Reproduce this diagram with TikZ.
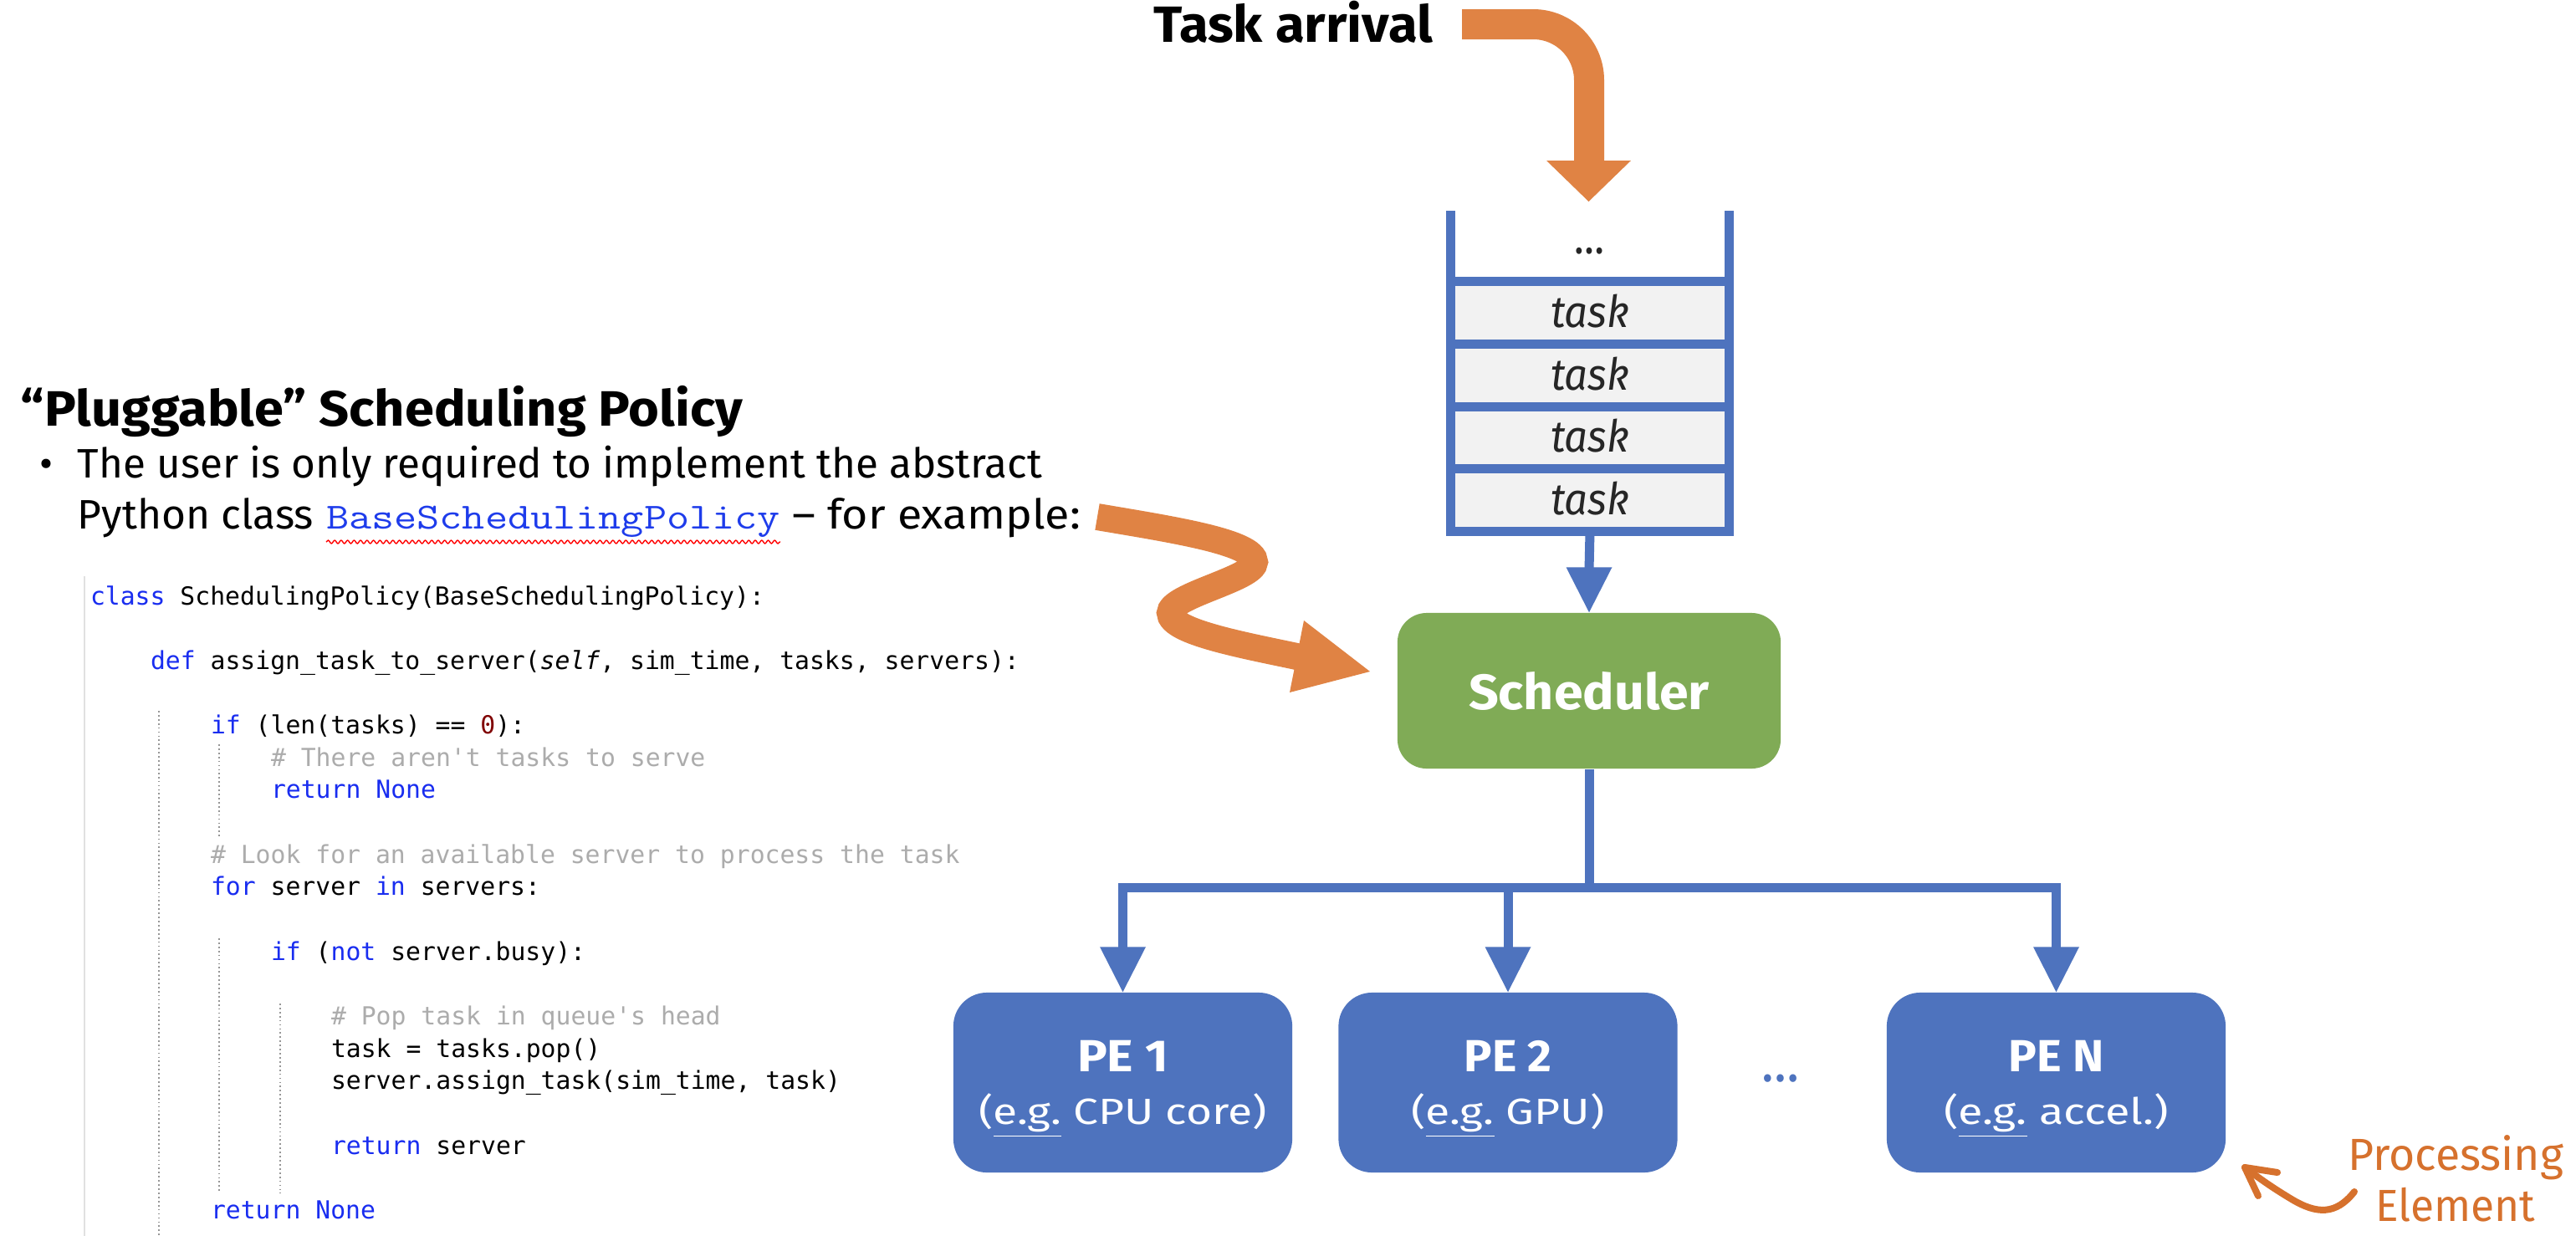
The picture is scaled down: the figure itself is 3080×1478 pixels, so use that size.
\documentclass[tikz,border=0pt]{standalone}
\usepackage{fontspec}
\usepackage{graphicx}
\setmainfont{Fira Sans}
\newfontfamily\condfont{Fira Sans}
\newfontfamily\codefont{DejaVu Sans Mono}
\usetikzlibrary{calc,decorations.pathmorphing}
\newlength\pxu \setlength\pxu{0.01cm}
\newcommand\fw[2]{\resizebox{#1\pxu}{\height}{#2}}
\newcommand\fsz[1]{\fontsize{#1pt}{#1pt}\selectfont}
\definecolor{qblue}{RGB}{78,115,190}
\definecolor{sgreen}{RGB}{128,171,86}
\definecolor{oband}{RGB}{224,131,68}
\definecolor{otext}{RGB}{214,113,45}
\definecolor{cellgray}{RGB}{242,242,242}
\definecolor{kwblue}{RGB}{25,45,240}
\definecolor{cmtgray}{RGB}{172,172,172}
\definecolor{numred}{RGB}{128,0,0}
\definecolor{linkblue}{RGB}{30,60,235}
\definecolor{guidegray}{RGB}{150,150,150}
\definecolor{rulegray}{RGB}{225,225,225}
\definecolor{tasktext}{RGB}{38,38,38}
\newcommand\kw[1]{\textcolor{kwblue}{#1}}
\newcommand\cmt[1]{\textcolor{cmtgray}{#1}}
\newcommand\bhead[1]{\fill[qblue] ($(#1)+(-27.5,-54)$) -- ($(#1)+(27.5,-54)$) -- (#1) -- cycle;}
\begin{document}
\begin{tikzpicture}[x=0.01cm,y=-0.01cm,
  txt/.style={inner sep=0pt,outer sep=0pt,anchor=base west},
  ctxt/.style={inner sep=0pt,outer sep=0pt,anchor=base},
  code/.style={txt,font=\codefont\fsz{8.46}},
  bline/.style={draw=qblue,line width=3.13pt},
  qline/.style={draw=qblue,line width=3.13pt,line join=miter},
  pebox/.style={fill=qblue,rounded corners=11.4pt,minimum width=4.05cm,minimum height=2.15cm,inner sep=0pt},
  guide/.style={draw=guidegray,line width=0.45pt,dash pattern=on 0.5pt off 0.9pt},
  tasktxt/.style={ctxt,text=tasktext,font=\itshape\fsz{15}}
]
\useasboundingbox (0,0) rectangle (3080,1478);
\fill[white] (0,0) rectangle (3080,1478);

% ---------- left text ----------
\node[txt,font=\condfont\bfseries\fsz{16.9}] (head) at (25,509) {\fw{863}{“Pluggable” Scheduling Policy}};
\node[ctxt,font=\fsz{14}] (bul) at (55,571) {•};
\node[txt,font=\fsz{14}] (b1) at (93,571) {\fw{1153}{The user is only required to implement the abstract}};
\node[txt,font=\fsz{14}] (b2a) at (93,632) {\fw{282}{Python class}};
\node[txt,font=\ttfamily\fsz{12.5},text=linkblue] (b2b) at (390,632) {\fw{543}{BaseSchedulingPolicy}};
\node[txt,font=\fsz{14}] (b2c) at (947,632) {\fw{345}{– for example:}};
\coordinate (wavyA) at (390,648);
\coordinate (wavyB) at (933,648);
\draw[red,line width=0.4pt,decorate,decoration={snake,amplitude=0.55pt,segment length=2.2pt}] (wavyA) -- (wavyB);

% ---------- code ----------
\draw[rulegray,line width=0.6pt] (101,689) -- (101,1478);
\draw[guide] (190,850) -- (190,1478);
\draw[guide] (262,890) -- (262,1000);
\draw[guide] (262,1122) -- (262,1427);
\draw[guide] (335,1200) -- (335,1427);
\node[code] (c1) at (108,723) {\kw{class} SchedulingPolicy(BaseSchedulingPolicy):};
\node[code] (c2) at (180,800.3) {\kw{def} assign\_task\_to\_server({\itshape self}, sim\_time, tasks, servers):};
\node[code] (c3) at (252,877.6) {\kw{if} (len(tasks) == \textcolor{numred}{0}):};
\node[code] (c4) at (324,916.3) {\cmt{\# There aren\textquotesingle t tasks to serve}};
\node[code] (c5) at (324,954.9) {\kw{return} \kw{None}};
\node[code] (c6) at (252,1032.2) {\cmt{\# Look for an available server to process the task}};
\node[code] (c7) at (252,1070.9) {\kw{for} server \kw{in} servers:};
\node[code] (c8) at (324,1148.2) {\kw{if} (\kw{not} server.busy):};
\node[code] (c9) at (396,1225.5) {\cmt{\# Pop task in queue\textquotesingle s head}};
\node[code] (c10) at (396,1264.1) {task = tasks.pop()};
\node[code] (c11) at (396,1302.8) {server.assign\_task(sim\_time, task)};
\node[code] (c12) at (396,1380.1) {\kw{return} server};
\node[code] (c13) at (252,1457.4) {\kw{return} \kw{None}};

% ---------- task arrival ----------
\node[txt,font=\bfseries\fsz{17.3}] (arrival) at (1379,50) {\fw{334}{Task arrival}};
\coordinate (arrS) at (1748,29);
\coordinate (arrC) at (1900,29);
\coordinate (arrE) at (1900,196);
\draw[oband,line width=10.24pt,rounded corners=19pt] (arrS) -- (arrC) -- (arrE);
\fill[oband] (1849,192) -- (1950,192) -- (1899.5,241) -- cycle;

% ---------- queue ----------
\fill[cellgray] (1740,337) rectangle (2062,636);
\draw[qline] (1734.5,252) -- (1734.5,635.5) -- (2067.5,635.5) -- (2067.5,252);
\foreach \yy in {336.5,411.5,486.5,560.5} \draw[bline] (1740,\yy) -- (2062,\yy);
\node[ctxt,text=tasktext,font=\fsz{16}] (qdots) at (1900,303) {\fw{36}{…}};
\node[tasktxt] (t1) at (1901,391) {\fw{94}{task}};
\node[tasktxt] (t2) at (1901,466) {\fw{94}{task}};
\node[tasktxt] (t3) at (1901,540.5) {\fw{94}{task}};
\node[tasktxt] (t4) at (1901,615) {\fw{94}{task}};
\coordinate (qbot) at (1901,636);

% ---------- scheduler ----------
\node[fill=sgreen,rounded corners=9.96pt,minimum width=4.58cm,minimum height=1.86cm,inner sep=0pt,
      text=white,font=\condfont\bfseries\fsz{16.9}] (sched) at (1900,826) {\fw{288}{Scheduler}};
\draw[bline] (qbot) -- ($(sched.north)+(0,-50)$);
\bhead{sched.north}

% ---------- wavy arrow ----------
\coordinate (wS) at (1312,618);
\coordinate (wE) at (1555,786);
\draw[oband,line width=9.1pt] (wS) .. controls (1400,633) and (1500,648) .. (1500,672)
   .. controls (1500,692) and (1399,712) .. (1399,733)
   .. controls (1399,756) and (1490,772) .. (wE);
\fill[oband] (1559,742) -- (1638,803) -- (1542,828) -- cycle;

% ---------- PEs ----------
\node[pebox] (pe1) at (1342.5,1294.5) {};
\node[pebox] (pe2) at (1803,1294.5) {};
\node[pebox] (pen) at (2458.5,1294.5) {};
\node[ctxt,text=white,font=\bfseries\fsz{15.3}] (pe1a) at (1342.5,1281) {\fw{109}{PE 1}};
\node[ctxt,text=white,font=\fsz{12.4}] (pe1b) at (1342.5,1344) {\fw{344}{(\underline{e.g.} CPU core)}};
\node[ctxt,text=white,font=\bfseries\fsz{15.3}] (pe2a) at (1803,1281) {\fw{105}{PE 2}};
\node[ctxt,text=white,font=\fsz{12.4}] (pe2b) at (1803,1344) {\fw{231}{(\underline{e.g.} GPU)}};
\node[ctxt,text=white,font=\bfseries\fsz{15.3}] (pena) at (2458.5,1281) {\fw{114}{PE N}};
\node[ctxt,text=white,font=\fsz{12.4}] (penb) at (2458.5,1344) {\fw{269}{(\underline{e.g.} accel.)}};
\node[ctxt,text=qblue,font=\fsz{19}] (pdots) at (2129,1293) {\fw{45}{…}};

\coordinate (bus) at (1900,1061);
\draw[bline] (sched.south) -- (bus);
\draw[bline] ($(pe1.north)+(0,-50)$) |- (bus) -| ($(pen.north)+(0,-50)$);
\draw[bline] (pe2.north |- bus) -- ($(pe2.north)+(0,-50)$);
\bhead{pe1.north}
\bhead{pe2.north}
\bhead{pen.north}

% ---------- processing element label ----------
\node[ctxt,text=otext,font=\fsz{15.3}] (lab1) at (2936,1399) {\fw{258}{Processing}};
\node[ctxt,text=otext,font=\fsz{15.3}] (lab2) at (2936,1460) {\fw{191}{Element}};
\coordinate (pa) at (2815,1425);
\coordinate (ptip) at (2684,1396);
\draw[otext,line width=2.28pt,line cap=round] (pa) .. controls (2793,1453) and (2770,1452) .. (2740,1434)
   .. controls (2715,1419) and (2700,1408) .. (ptip);
\draw[otext,line width=2.28pt,line cap=round,line join=round] (2723,1402) -- (ptip) -- (2700,1430);
\end{tikzpicture}
\end{document}
